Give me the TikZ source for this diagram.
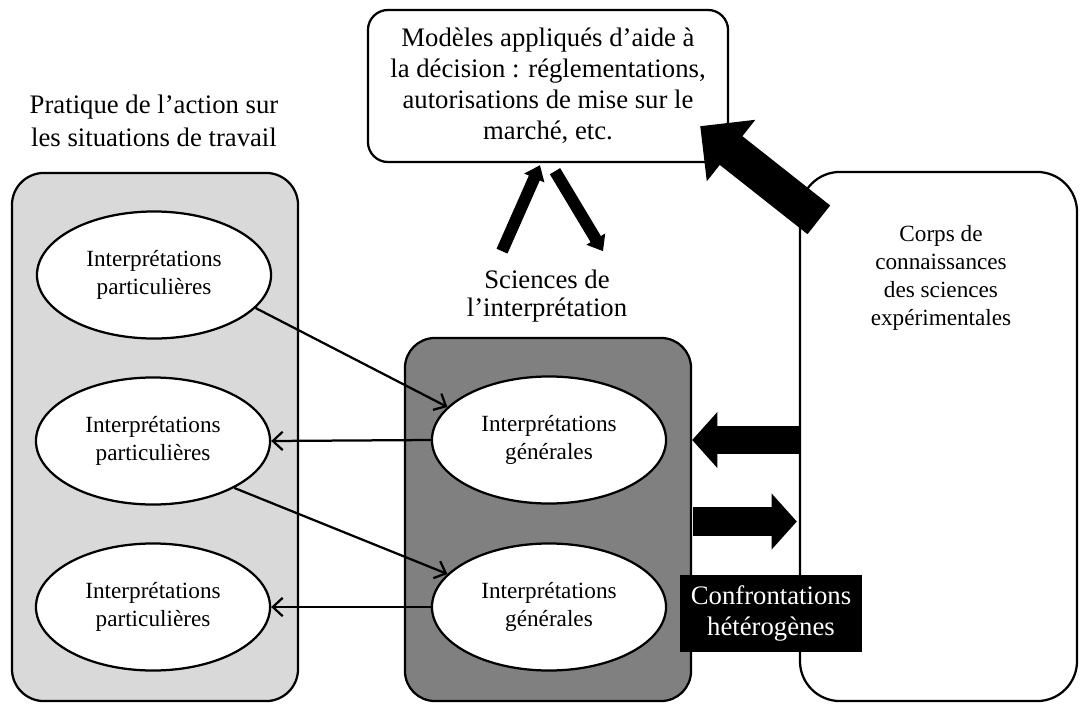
\documentclass[tikz,border=0pt]{standalone}
\usepackage{fontspec}
\setmainfont{Liberation Serif}
\usetikzlibrary{shapes.geometric,arrows.meta,calc}

\tikzset{
	bigtext/.style = {align=center, font=\fontsize{19}{22.5}\selectfont},
	smalltext/.style = {align=center, font=\fontsize{16.5}{20}\selectfont},
	roundbox/.style = {draw, line width=1.6pt, rounded corners=0.8cm, inner sep=0pt},
	interp/.style = {draw, ellipse, fill=white, line width=1.6pt, inner sep=0pt,
		minimum width=5.85cm, minimum height=3.175cm, smalltext},
	thinarrow/.style = {line width=1.6pt, -{Straight Barb[length=7pt,width=13pt]}},
	fatarrow/.style = {line width=20pt, -{Triangle[length=18pt,width=39pt]}},
	bigarrow/.style = {line width=26pt, -{Triangle[length=28pt,width=54pt]}},
	smallarrow/.style = {line width=8.5pt, -{Triangle[length=10pt,width=15pt]}}
}

\begin{document}
\begin{tikzpicture}[x=0.025cm, y=-0.025cm]
		\useasboundingbox (0,0) rectangle (1080,704);
		
		% the three columns
		\node[roundbox, fill=black!15, minimum width=7.15cm, minimum height=13.2cm]
			(lbox) at (155,437) {};
		\node[roundbox, fill=black!50, rounded corners=0.75cm, minimum width=7.15cm,
			minimum height=9.075cm] (mbox) at (548,519.5) {};
		\node[roundbox, fill=white, rounded corners=1cm, minimum width=6.925cm,
			minimum height=13.225cm] (rbox) at (938.5,436.5) {};
		
		\node[roundbox, fill=white, rounded corners=0.5cm, minimum width=9cm,
			minimum height=3.8cm, bigtext, font=\fontsize{19}{22}\selectfont] (mod) at (548,86)
			{Modèles appliqués d’aide à\\la décision : réglementations,\\autorisations de mise sur le\\marché, etc.};
		
		\node[bigtext, font=\fontsize{19}{23.5}\selectfont] (pratique) at (154,121)
			{Pratique de l’action sur\\les situations de travail};
		\node[bigtext, font=\fontsize{19}{20}\selectfont] (sciences) at (547,296)
			{Sciences de\\l’interprétation};
		\node[smalltext] (corps) at (941,278)
			{Corps de\\connaissances\\des sciences\\expérimentales};
		
		\node[interp] (pl1) at (154,275) {Interprétations\\particulières};
		\node[interp] (pl2) at (153,441) {Interprétations\\particulières};
		\node[interp] (pl3) at (153,607) {Interprétations\\particulières};
		\node[interp] (ig1) at (549,440) {Interprétations\\générales};
		\node[interp] (ig2) at (549,607) {Interprétations\\générales};
		
		\draw[thinarrow] (pl1.-18) -- (ig1.162);
		\draw[thinarrow] (ig1.west) -- (pl2.east);
		\draw[thinarrow] (pl2.-30) -- (ig2.162);
		\draw[thinarrow] (ig2.west) -- (pl3.east);
		
		% fat arrows
		\draw[fatarrow] (rbox.west |- ig1.center) -- (mbox.east |- ig1.center);
		\draw[fatarrow] ($(mbox.east)+(1,2)$) -- ($(rbox.west |- mbox.east)+(-2,2)$);
		
		\coordinate (bigtail) at ($(rbox.north west)+(20,49)$);
		\draw[bigarrow] (bigtail) -- ($(mod.south east)+(-29,-37)$);
		
		\draw[smallarrow] ($(mod.south)+(-46,88)$) -- ($(mod.south)+(-8,2)$);
		\draw[smallarrow] ($(mod.south)+(7,8)$) -- ($(mod.south)+(55,88)$);
		
		\node[fill=black, text=white, bigtext, font=\fontsize{19}{21.5}\selectfont,
			minimum width=4.55cm, minimum height=1.925cm, inner sep=0pt]
			(confront) at (771,613.5) {Confrontations\\hétérogènes};
	\end{tikzpicture}
\end{document}
